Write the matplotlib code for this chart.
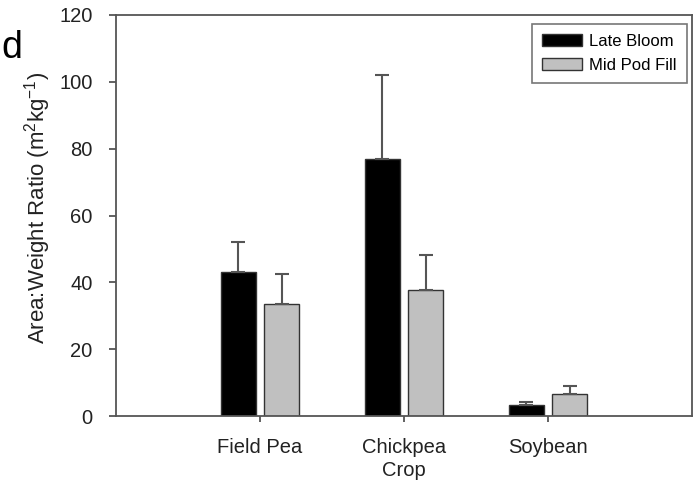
import matplotlib
matplotlib.use("Agg")
import matplotlib.pyplot as plt
import numpy as np

plt.rcParams['font.family'] = ['Liberation Sans', 'DejaVu Sans']
plt.rcParams['mathtext.fontset'] = 'custom'
plt.rcParams['mathtext.rm'] = 'Liberation Sans'
plt.rcParams['mathtext.it'] = 'Liberation Sans'

crops = ["Field Pea", "Chickpea", "Soybean"]
late_bloom = [43.2, 76.9, 3.3]
late_bloom_err = [9.0, 25.1, 0.9]
mid_pod_fill = [33.5, 37.6, 6.6]
mid_pod_fill_err = [9.0, 10.6, 2.3]
yticks = [0, 20, 40, 60, 80, 100, 120]

fig = plt.figure(figsize=(6.93, 4.83), dpi=100)
ax = fig.add_axes([116/693, 1-416/483, 576/693, 401/483])

x = np.arange(1, len(crops) + 1)
w = 0.24
off = 0.15
edge = '#333333'
ekw = dict(ecolor='#555555', elinewidth=1.5, capsize=5, capthick=1.5)
ax.bar(x - off, late_bloom, w, color='black', edgecolor=edge, linewidth=1.0,
       yerr=[np.zeros(3), late_bloom_err], error_kw=ekw, label='Late Bloom', zorder=2)
ax.bar(x + off, mid_pod_fill, w, color='#c0c0c0', edgecolor=edge, linewidth=1.0,
       yerr=[np.zeros(3), mid_pod_fill_err], error_kw=ekw, label='Mid Pod Fill', zorder=2)

ax.set_xlim(0, 4)
ax.set_ylim(0, 120)
ax.set_yticks(yticks)
ax.set_xticks(x)
ax.set_xticklabels(crops)
for s in ax.spines.values():
    s.set_color('#555555')
    s.set_linewidth(1.3)
ax.tick_params(axis='both', colors='#555555', labelcolor='#222222', labelsize=14.5, width=1.3)
ax.tick_params(axis='y', length=5, pad=12)
ax.tick_params(axis='x', length=4, pad=12)
ax.set_xlabel('Crop', fontsize=14.5, color='#222222', labelpad=3)
ax.set_ylabel('Area:Weight Ratio (m$^{2}$kg$^{-1}$)', fontsize=16, color='#222222')
ax.yaxis.set_label_coords(-0.11, 0.52)

leg = ax.legend(loc='upper right', bbox_to_anchor=(0.991, 0.978), borderaxespad=0, fontsize=12,
                frameon=True, fancybox=False, edgecolor='#555555', handlelength=2.4, handleheight=0.72,
                borderpad=0.6, labelspacing=0.55, handletextpad=0.42)
leg.get_frame().set_linewidth(1.2)

fig.text(1/693, 1-58/483, 'd', fontsize=27, ha='left', va='baseline', color='black')

fig.savefig('out.png', dpi=100)
